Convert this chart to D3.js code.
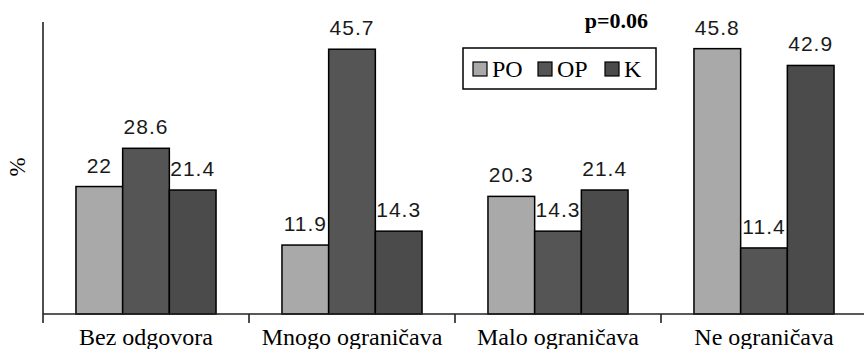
<!DOCTYPE html>
<html>
<head>
<meta charset="utf-8">
<script src="https://cdn.jsdelivr.net/npm/d3@7"></script>
<style>
  html, body { margin: 0; padding: 0; background: #fff; }
  svg { display: block; }
  .serif { font-family: "Liberation Serif", "DejaVu Serif", "Times New Roman", serif; }
  .val { font-family: "Liberation Sans", Arial, sans-serif; }
</style>
</head>
<body>
<svg id="chart" width="864" height="349"></svg>
<script>
// Response categories and percentage per group
const categories = ["Bez odgovora", "Mnogo ograničava", "Malo ograničava", "Ne ograničava"];
const seriesNames = ["PO", "OP", "K"];
const valuesPO = [22, 11.9, 20.3, 45.8];
const valuesOP = [28.6, 45.7, 14.3, 11.4];
const valuesK  = [21.4, 14.3, 21.4, 42.9];
const seriesColors = ["#a9a9a9", "#555555", "#4b4b4b"];
const pText = "p=0.06";
const yLabel = "%";

const seriesValues = [valuesPO, valuesOP, valuesK];
const rows = categories.map((c, i) => ({
  category: c,
  bars: seriesNames.map((s, j) => ({ series: s, value: seriesValues[j][i], color: seriesColors[j] }))
}));

const svg = d3.select("#chart");
const left = 43, right = 867, baseY = 314, topY = 22;

const x = d3.scaleBand().domain(categories).range([left, right]).padding(0);
const bw = x.bandwidth();
const groupW = bw * 0.68;
const xs = d3.scaleBand().domain(seriesNames)
  .range([(bw - groupW) / 2, (bw + groupW) / 2]).padding(0);
const y = d3.scaleLinear().domain([0, 50.4]).range([baseY, topY]);

// Bars
const groups = svg.append("g").selectAll("g").data(rows).join("g")
  .attr("transform", d => `translate(${x(d.category)},0)`);

groups.selectAll("rect").data(d => d.bars).join("rect")
  .attr("x", d => xs(d.series))
  .attr("y", d => y(d.value))
  .attr("width", xs.bandwidth())
  .attr("height", d => y(0) - y(d.value))
  .attr("fill", d => d.color)
  .attr("stroke", "#000")
  .attr("stroke-width", 1.5);

// Value labels above each bar
groups.selectAll("text.val").data(d => d.bars).join("text")
  .attr("class", "val")
  .attr("x", d => xs(d.series) + xs.bandwidth() / 2)
  .attr("y", d => y(d.value) - 14)
  .attr("text-anchor", "middle")
  .attr("font-size", 21)
  .attr("letter-spacing", 1)
  .attr("fill", "#1a1a1a")
  .text(d => d.value);

// Axes
const axis = svg.append("g").attr("stroke", "#222").attr("stroke-width", 1.6);
axis.append("line").attr("x1", left).attr("x2", left).attr("y1", topY).attr("y2", baseY + 9);
axis.append("line").attr("x1", left).attr("x2", 864).attr("y1", baseY).attr("y2", baseY);
axis.selectAll("line.tick").data(categories.slice(1)).join("line")
  .attr("class", "tick")
  .attr("x1", d => x(d)).attr("x2", d => x(d))
  .attr("y1", baseY).attr("y2", baseY + 9);

// Category labels
svg.append("g").selectAll("text").data(categories).join("text")
  .attr("class", "serif")
  .attr("x", d => x(d) + bw / 2)
  .attr("y", 345)
  .attr("text-anchor", "middle")
  .attr("font-size", 24)
  .attr("fill", "#000")
  .text(d => d);

// Y axis title
svg.append("text")
  .attr("class", "serif")
  .attr("transform", "translate(25,167) rotate(-90)")
  .attr("text-anchor", "middle")
  .attr("font-size", 23)
  .attr("fill", "#000")
  .text(yLabel);

// Significance note
svg.append("text")
  .attr("class", "serif")
  .attr("x", 648).attr("y", 28)
  .attr("text-anchor", "end")
  .attr("font-weight", "bold")
  .attr("font-size", 22)
  .attr("fill", "#000")
  .text(pText);

// Legend
const legend = svg.append("g").attr("transform", "translate(463,48)");
legend.append("rect").attr("width", 193).attr("height", 41)
  .attr("fill", "#fff").attr("stroke", "#000").attr("stroke-width", 1.5);
const legendX = [10, 75, 142];
const items = legend.selectAll("g").data(seriesNames).join("g")
  .attr("transform", (d, i) => `translate(${legendX[i]},14)`);
items.append("rect").attr("width", 14).attr("height", 14)
  .attr("fill", (d, i) => seriesColors[i]).attr("stroke", "#000").attr("stroke-width", 1.2);
items.append("text")
  .attr("class", "serif")
  .attr("x", 19).attr("y", 15)
  .attr("font-size", 24)
  .attr("fill", "#000")
  .text(d => d);
</script>
</body>
</html>
